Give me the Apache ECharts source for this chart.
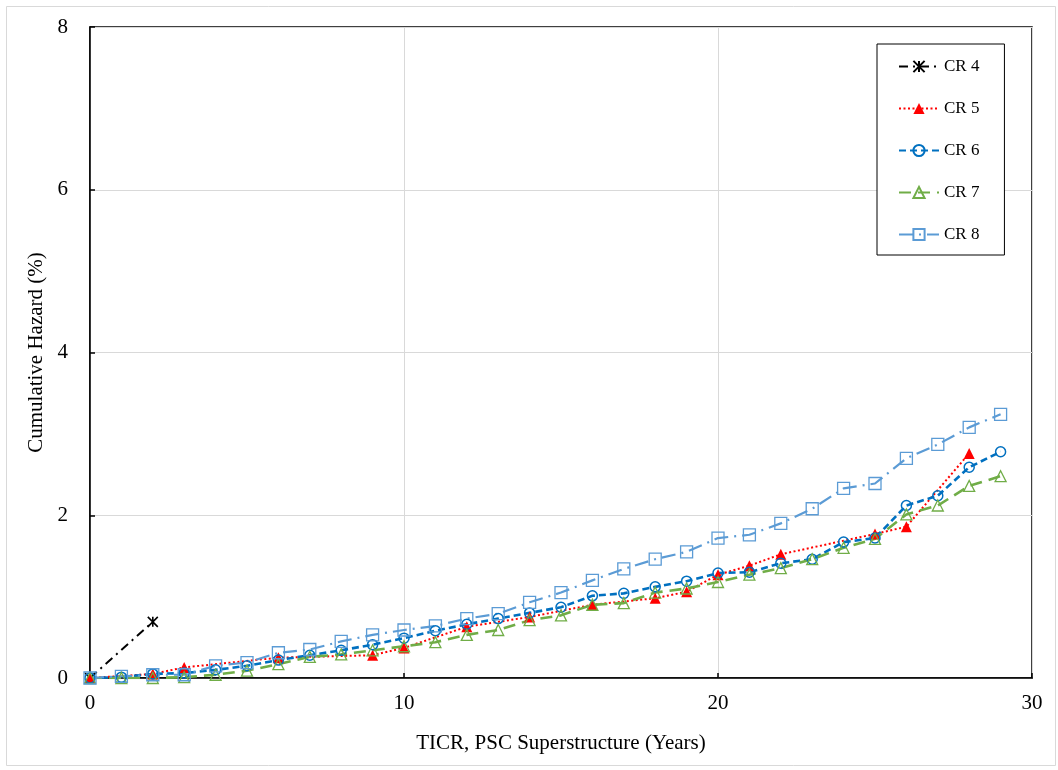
<!DOCTYPE html>
<html>
<head>
<meta charset="utf-8">
<script src="https://cdn.jsdelivr.net/npm/echarts@6/dist/echarts.min.js"></script>
<style>
html,body{margin:0;padding:0;background:#fff;}
#chart{width:1058px;height:770px;}
</style>
</head>
<body>
<div id="chart"></div>
<script>
// ---- data ----
const cr4Years = [0, 2];
const cr4Hazard = [0, 0.69];

const cr5Years = [0, 2, 3, 6, 9, 10, 12, 14, 16, 18, 19, 20, 21, 22, 25, 26, 28];
const cr5Hazard = [0, 0.05, 0.13, 0.25, 0.28, 0.37, 0.63, 0.75, 0.9, 0.98, 1.06, 1.27, 1.38, 1.52, 1.77, 1.86, 2.76];

const years = [0,1,2,3,4,5,6,7,8,9,10,11,12,13,14,15,16,17,18,19,20,21,22,23,24,25,26,27,28,29];
const cr6Hazard = [0, 0.01, 0.05, 0.06, 0.1, 0.15, 0.22, 0.28, 0.34, 0.41, 0.49, 0.58, 0.66, 0.73, 0.8, 0.87, 1.01, 1.04, 1.12, 1.19, 1.29, 1.3, 1.41, 1.46, 1.67, 1.72, 2.12, 2.24, 2.59, 2.78];
const cr7Hazard = [0, 0.0, 0.0, 0.01, 0.04, 0.09, 0.17, 0.26, 0.29, 0.34, 0.39, 0.44, 0.53, 0.59, 0.71, 0.77, 0.9, 0.92, 1.05, 1.1, 1.18, 1.27, 1.35, 1.46, 1.6, 1.71, 2.01, 2.12, 2.36, 2.48];
const cr8Hazard = [0, 0.02, 0.04, 0.04, 0.15, 0.19, 0.31, 0.35, 0.45, 0.53, 0.59, 0.64, 0.73, 0.79, 0.93, 1.05, 1.2, 1.34, 1.46, 1.55, 1.72, 1.76, 1.9, 2.08, 2.33, 2.39, 2.7, 2.87, 3.08, 3.24];

const seriesNames = ['CR 4', 'CR 5', 'CR 6', 'CR 7', 'CR 8'];
const xTitle = 'TICR, PSC Superstructure (Years)';
const yTitle = 'Cumulative Hazard (%)';

function zip(xs, ys) { return xs.map((x, i) => [x, ys[i]]); }

const FONT = '"Liberation Serif", "Times New Roman", serif';
const chart = echarts.init(document.getElementById('chart'), null, {renderer: 'canvas'});

const clear = 'rgba(255,255,255,0)';

chart.setOption({
  animation: false,
  backgroundColor: '#fff',
  textStyle: {fontFamily: FONT, color: '#000'},
  grid: {left: 90, right: 26, top: 27, bottom: 92, show: true, borderColor: '#000', borderWidth: 1.5, backgroundColor: 'transparent'},
  graphic: [{
    type: 'rect', left: 4, top: 4, z: -10,
    shape: {width: 1049, height: 759},
    style: {fill: 'none', stroke: '#d9d9d9', lineWidth: 1}
  }],
  legend: {
    orient: 'vertical',
    left: 877, top: 44,
    padding: [14, 25, 12, 21],
    itemGap: 25,
    itemWidth: 40, itemHeight: 14,
    borderColor: '#000', borderWidth: 1,
    backgroundColor: '#fff',
    textStyle: {fontFamily: FONT, fontSize: 17, color: '#000', padding: [0,0,0,0]},
    data: seriesNames
  },
  xAxis: {
    type: 'value', min: 0, max: 30, interval: 10,
    name: xTitle, nameLocation: 'middle', nameGap: 55,
    nameTextStyle: {fontFamily: FONT, fontSize: 21, color: '#000'},
    axisLine: {show: true, lineStyle: {color: '#000', width: 1.5}},
    axisTick: {show: true, inside: true, length: 5, lineStyle: {color: '#000', width: 1.5}},
    axisLabel: {fontFamily: FONT, fontSize: 21, color: '#000', margin: 15},
    splitLine: {show: true, lineStyle: {color: '#d9d9d9', width: 1}}
  },
  yAxis: {
    type: 'value', min: 0, max: 8, interval: 2,
    name: yTitle, nameLocation: 'middle', nameGap: 41,
    nameTextStyle: {fontFamily: FONT, fontSize: 21, color: '#000'},
    axisLine: {show: true, lineStyle: {color: '#000', width: 1.5}},
    axisTick: {show: true, inside: true, length: 5, lineStyle: {color: '#000', width: 1.5}},
    axisLabel: {fontFamily: FONT, fontSize: 21, color: '#000', margin: 22},
    splitLine: {show: true, lineStyle: {color: '#d9d9d9', width: 1}}
  },
  series: [
    {
      name: 'CR 4', type: 'line', data: zip(cr4Years, cr4Hazard),
      symbol: 'path://M0,0 L10,10 M10,0 L0,10 M5,0 L5,10', symbolSize: 10,
      itemStyle: {color: '#000', borderColor: '#000', borderWidth: 1.6},
      lineStyle: {color: '#000', width: 2, type: [9, 5, 2, 5]}
    },
    {
      name: 'CR 5', type: 'line', data: zip(cr5Years, cr5Hazard),
      symbol: 'triangle', symbolSize: 11,
      itemStyle: {color: '#ff0000', borderColor: '#ff0000', borderWidth: 0},
      lineStyle: {color: '#ff0000', width: 2, type: [2, 2.5]}
    },
    {
      name: 'CR 6', type: 'line', data: zip(years, cr6Hazard),
      symbol: 'circle', symbolSize: 10,
      itemStyle: {color: clear, borderColor: '#0070c0', borderWidth: 1.5},
      lineStyle: {color: '#0070c0', width: 2.6, type: [7, 4]}
    },
    {
      name: 'CR 7', type: 'line', data: zip(years, cr7Hazard),
      symbol: 'triangle', symbolSize: 11,
      itemStyle: {color: clear, borderColor: '#70ad47', borderWidth: 1.3},
      lineStyle: {color: '#70ad47', width: 2.6, type: [12, 7]}
    },
    {
      name: 'CR 8', type: 'line', data: zip(years, cr8Hazard),
      symbol: 'rect', symbolSize: 12,
      itemStyle: {color: clear, borderColor: '#5b9bd5', borderWidth: 1.3},
      lineStyle: {color: '#5b9bd5', width: 2.2, type: [14, 6, 2, 6]}
    }
  ]
});
</script>
</body>
</html>
